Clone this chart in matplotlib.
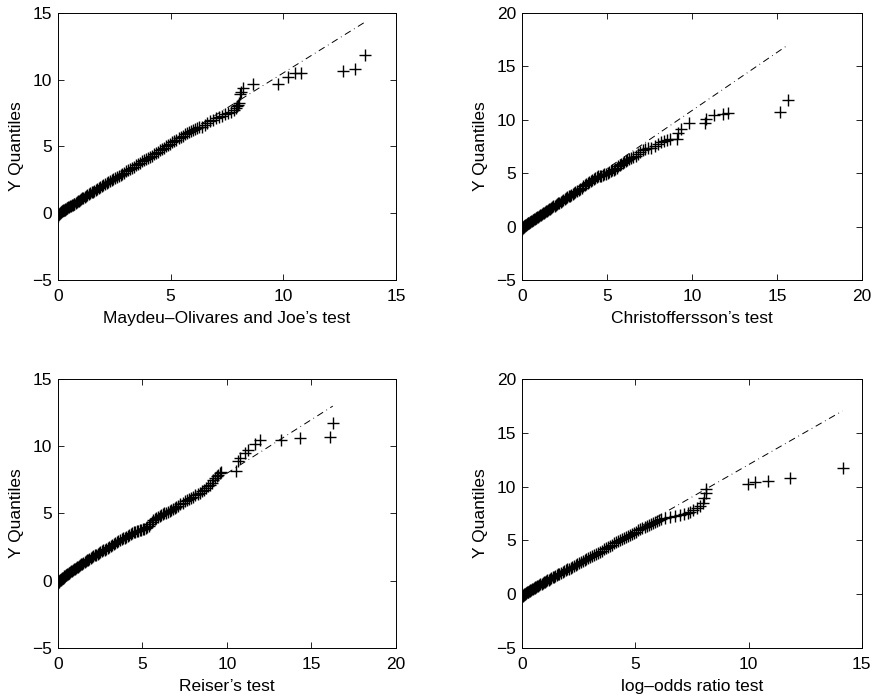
import matplotlib
matplotlib.use("Agg")
import matplotlib.pyplot as plt

plt.rcParams["font.family"] = ["Liberation Sans", "DejaVu Sans"]

# Maydeu-Olivares and Joe's test (sorted quantile pairs)
mo_x = [0.00, 0.02, 0.04, 0.06, 0.08, 0.10, 0.12, 0.14, 0.17, 0.20, 0.23, 0.26, 0.29, 0.32,
        0.35, 0.38, 0.41, 0.45, 0.49, 0.53, 0.57, 0.61, 0.65, 0.69, 0.73, 0.78, 0.83, 0.88,
        0.93, 0.98, 1.03, 1.08, 1.13, 1.19, 1.25, 1.31, 1.37, 1.43, 1.49, 1.55, 1.61, 1.67,
        1.74, 1.81, 1.88, 1.95, 2.02, 2.09, 2.16, 2.23, 2.30, 2.38, 2.46, 2.54, 2.62, 2.70,
        2.78, 2.86, 2.94, 3.02, 3.10, 3.19, 3.28, 3.37, 3.46, 3.55, 3.64, 3.73, 3.82, 3.91,
        4.00, 4.09, 4.18, 4.27, 4.36, 4.45, 4.54, 4.63, 4.72, 4.81, 4.90, 4.99, 5.08, 5.17,
        5.26, 5.35, 5.44, 5.53, 5.62, 5.71, 5.80, 5.89, 5.98, 6.07, 6.16, 6.28, 6.40, 6.52,
        6.63, 6.75, 6.88, 7.00, 7.13, 7.26, 7.40, 7.55, 7.70, 7.80, 7.88, 7.94, 8.00, 8.05,
        8.08, 8.13, 8.20, 8.66, 9.76, 10.20, 10.50, 10.80, 12.64, 13.20, 13.63]
mo_y = [-0.18, -0.12, -0.07, -0.03, 0.01, 0.04, 0.07, 0.10, 0.14, 0.17, 0.20, 0.24, 0.27, 0.30,
        0.33, 0.36, 0.39, 0.43, 0.47, 0.51, 0.55, 0.59, 0.63, 0.68, 0.72, 0.77, 0.82, 0.88,
        0.93, 0.99, 1.05, 1.10, 1.16, 1.22, 1.29, 1.35, 1.42, 1.48, 1.55, 1.61, 1.68, 1.74,
        1.81, 1.88, 1.95, 2.02, 2.09, 2.16, 2.23, 2.30, 2.37, 2.45, 2.53, 2.61, 2.70, 2.78,
        2.87, 2.95, 3.04, 3.12, 3.20, 3.29, 3.38, 3.48, 3.58, 3.68, 3.78, 3.88, 3.97, 4.06,
        4.14, 4.22, 4.31, 4.40, 4.50, 4.60, 4.70, 4.80, 4.90, 5.00, 5.10, 5.20, 5.30, 5.40,
        5.49, 5.59, 5.69, 5.79, 5.90, 6.00, 6.08, 6.16, 6.24, 6.32, 6.38, 6.42, 6.48, 6.60,
        6.72, 6.86, 6.98, 7.10, 7.22, 7.30, 7.40, 7.52, 7.60, 7.72, 7.85, 8.00, 8.12, 8.22,
        8.90, 9.08, 9.33, 9.63, 9.70, 10.20, 10.45, 10.50, 10.62, 10.77, 11.82]
mo_line_x = [0.0, 13.63]
mo_line_y = [0.0, 14.3]

# Christoffersson's test
ch_x = [0.00, 0.02, 0.04, 0.06, 0.08, 0.10, 0.12, 0.15, 0.18, 0.21, 0.24, 0.27, 0.30, 0.33,
        0.36, 0.40, 0.44, 0.48, 0.52, 0.56, 0.60, 0.64, 0.68, 0.73, 0.78, 0.83, 0.88, 0.93,
        0.98, 1.03, 1.08, 1.14, 1.20, 1.26, 1.32, 1.38, 1.44, 1.50, 1.56, 1.62, 1.69, 1.76,
        1.83, 1.90, 1.97, 2.04, 2.11, 2.18, 2.25, 2.33, 2.41, 2.49, 2.57, 2.65, 2.73, 2.81,
        2.89, 2.97, 3.05, 3.13, 3.22, 3.31, 3.40, 3.49, 3.58, 3.67, 3.76, 3.85, 3.94, 4.03,
        4.12, 4.21, 4.30, 4.39, 4.48, 4.57, 4.66, 4.75, 4.84, 4.93, 5.02, 5.11, 5.20, 5.29,
        5.38, 5.47, 5.56, 5.65, 5.74, 5.83, 5.92, 6.01, 6.10, 6.19, 6.28, 6.40, 6.53, 6.68,
        6.82, 6.96, 7.10, 7.25, 7.42, 7.60, 7.80, 8.00, 8.20, 8.35, 8.50, 8.70, 9.10, 9.20,
        9.35, 9.85, 10.76, 10.80, 11.30, 11.80, 12.10, 15.20, 15.67]
ch_y = [-0.20, -0.14, -0.09, -0.05, -0.01, 0.02, 0.05, 0.09, 0.13, 0.16, 0.19, 0.23, 0.26, 0.29,
        0.33, 0.37, 0.41, 0.45, 0.50, 0.54, 0.58, 0.62, 0.67, 0.72, 0.77, 0.83, 0.88, 0.93,
        0.99, 1.04, 1.10, 1.16, 1.22, 1.29, 1.35, 1.41, 1.48, 1.54, 1.60, 1.66, 1.73, 1.80,
        1.88, 1.95, 2.02, 2.09, 2.16, 2.24, 2.31, 2.39, 2.48, 2.56, 2.65, 2.73, 2.82, 2.90,
        2.99, 3.07, 3.16, 3.25, 3.35, 3.45, 3.55, 3.65, 3.75, 3.85, 3.95, 4.06, 4.16, 4.27,
        4.38, 4.49, 4.58, 4.64, 4.68, 4.72, 4.76, 4.81, 4.87, 4.94, 5.02, 5.10, 5.18, 5.25,
        5.33, 5.42, 5.52, 5.63, 5.74, 5.85, 5.95, 6.05, 6.14, 6.22, 6.30, 6.40, 6.52, 6.64,
        6.80, 7.00, 7.12, 7.22, 7.30, 7.38, 7.55, 7.72, 7.92, 8.02, 8.12, 8.18, 8.22, 8.72,
        9.10, 9.65, 9.70, 10.10, 10.45, 10.50, 10.60, 10.75, 11.80]
ch_line_x = [0.0, 15.67]
ch_line_y = [0.0, 17.0]

# Reiser's test
re_x = [0.00, 0.02, 0.04, 0.06, 0.08, 0.10, 0.12, 0.15, 0.18, 0.21, 0.24, 0.27, 0.30, 0.34,
        0.38, 0.42, 0.46, 0.50, 0.54, 0.58, 0.63, 0.68, 0.73, 0.78, 0.83, 0.88, 0.94, 1.00,
        1.06, 1.12, 1.18, 1.24, 1.30, 1.37, 1.44, 1.51, 1.58, 1.65, 1.72, 1.79, 1.86, 1.94,
        2.02, 2.10, 2.18, 2.26, 2.34, 2.42, 2.50, 2.59, 2.68, 2.77, 2.86, 2.95, 3.04, 3.13,
        3.22, 3.31, 3.40, 3.49, 3.58, 3.67, 3.76, 3.85, 3.94, 4.03, 4.12, 4.21, 4.30, 4.39,
        4.48, 4.57, 4.66, 4.75, 4.84, 4.93, 5.02, 5.11, 5.20, 5.29, 5.38, 5.47, 5.56, 5.65,
        5.74, 5.83, 5.92, 6.01, 6.10, 6.20, 6.30, 6.40, 6.50, 6.60, 6.70, 6.80, 6.90, 7.00,
        7.12, 7.25, 7.38, 7.50, 7.62, 7.75, 7.88, 8.00, 8.13, 8.26, 8.38, 8.50, 8.62, 8.74,
        8.86, 8.98, 9.10, 9.20, 9.30, 9.40, 9.48, 9.57, 9.67, 10.55, 10.65, 10.75, 11.05,
        11.24, 11.63, 11.93, 13.20, 14.30, 16.12, 16.26]
re_y = [-0.18, -0.13, -0.09, -0.05, -0.02, 0.01, 0.04, 0.08, 0.11, 0.14, 0.17, 0.20, 0.23, 0.27,
        0.31, 0.35, 0.39, 0.43, 0.47, 0.51, 0.55, 0.60, 0.64, 0.69, 0.74, 0.78, 0.84, 0.89,
        0.94, 1.00, 1.05, 1.10, 1.15, 1.21, 1.27, 1.33, 1.39, 1.45, 1.51, 1.57, 1.63, 1.69,
        1.76, 1.82, 1.88, 1.94, 2.00, 2.06, 2.12, 2.18, 2.25, 2.31, 2.37, 2.44, 2.50, 2.57,
        2.64, 2.71, 2.78, 2.86, 2.93, 3.00, 3.07, 3.14, 3.21, 3.28, 3.35, 3.42, 3.48, 3.54,
        3.59, 3.64, 3.68, 3.72, 3.75, 3.78, 3.81, 3.85, 3.90, 3.98, 4.10, 4.24, 4.38, 4.50,
        4.60, 4.68, 4.75, 4.82, 4.88, 4.94, 5.00, 5.06, 5.12, 5.19, 5.26, 5.33, 5.41, 5.49,
        5.58, 5.68, 5.80, 5.92, 6.00, 6.08, 6.16, 6.24, 6.34, 6.44, 6.55, 6.66, 6.78, 6.90,
        7.02, 7.15, 7.30, 7.46, 7.62, 7.76, 7.90, 8.05, 8.12, 8.15, 8.90, 9.14, 9.50,
        9.76, 10.14, 10.50, 10.50, 10.63, 10.71, 11.76]
re_line_x = [0.0, 16.26]
re_line_y = [0.0, 13.0]

# log-odds ratio test
lo_x = [0.00, 0.02, 0.04, 0.06, 0.08, 0.10, 0.12, 0.14, 0.17, 0.20, 0.23, 0.26, 0.29, 0.32,
        0.35, 0.38, 0.42, 0.46, 0.50, 0.54, 0.58, 0.62, 0.66, 0.70, 0.75, 0.80, 0.85, 0.90,
        0.95, 1.00, 1.05, 1.10, 1.16, 1.22, 1.28, 1.34, 1.40, 1.46, 1.52, 1.58, 1.64, 1.71,
        1.78, 1.85, 1.92, 1.99, 2.06, 2.13, 2.20, 2.27, 2.35, 2.43, 2.51, 2.59, 2.67, 2.75,
        2.83, 2.91, 2.99, 3.07, 3.15, 3.24, 3.33, 3.42, 3.51, 3.60, 3.69, 3.78, 3.87, 3.96,
        4.05, 4.14, 4.23, 4.32, 4.41, 4.50, 4.59, 4.68, 4.77, 4.86, 4.95, 5.04, 5.13, 5.22,
        5.31, 5.40, 5.49, 5.58, 5.67, 5.76, 5.85, 5.94, 6.03, 6.15, 6.32, 6.52, 6.75, 6.97,
        7.15, 7.30, 7.40, 7.55, 7.70, 7.85, 8.00, 8.05, 8.10, 8.12, 9.99, 10.28, 10.87,
        11.83, 14.15]
lo_y = [-0.22, -0.16, -0.11, -0.07, -0.03, 0.01, 0.04, 0.07, 0.11, 0.15, 0.19, 0.23, 0.27, 0.31,
        0.34, 0.38, 0.43, 0.48, 0.53, 0.58, 0.63, 0.68, 0.73, 0.78, 0.84, 0.90, 0.96, 1.02,
        1.08, 1.14, 1.20, 1.26, 1.33, 1.40, 1.47, 1.54, 1.61, 1.68, 1.75, 1.82, 1.89, 1.97,
        2.05, 2.13, 2.21, 2.29, 2.37, 2.45, 2.53, 2.61, 2.70, 2.79, 2.88, 2.98, 3.07, 3.16,
        3.25, 3.35, 3.44, 3.54, 3.63, 3.74, 3.84, 3.95, 4.05, 4.16, 4.27, 4.38, 4.49, 4.60,
        4.71, 4.81, 4.90, 4.99, 5.08, 5.18, 5.28, 5.38, 5.49, 5.60, 5.71, 5.82, 5.93, 6.03,
        6.13, 6.23, 6.33, 6.43, 6.53, 6.63, 6.72, 6.80, 6.88, 7.00, 7.10, 7.20, 7.28, 7.36,
        7.42, 7.52, 7.65, 7.86, 8.02, 8.18, 8.50, 8.95, 9.40, 9.75, 10.22, 10.44, 10.53,
        10.78, 11.78]
lo_line_x = [0.0, 14.15]
lo_line_y = [0.0, 17.05]

panels = [
    (mo_x, mo_y, mo_line_x, mo_line_y, "Maydeu\u2013Olivares and Joe\u2019s test", (0, 15), (-5, 15)),
    (ch_x, ch_y, ch_line_x, ch_line_y, "Christoffersson\u2019s test", (0, 20), (-5, 20)),
    (re_x, re_y, re_line_x, re_line_y, "Reiser\u2019s test", (0, 20), (-5, 15)),
    (lo_x, lo_y, lo_line_x, lo_line_y, "log\u2013odds ratio test", (0, 15), (-5, 20)),
]

# axes boxes in figure fractions (left, bottom, width, height)
boxes = [
    (0.0661, 0.600, 0.3854, 0.3819),
    (0.5956, 0.600, 0.3870, 0.3819),
    (0.0661, 0.0747, 0.3854, 0.3835),
    (0.5956, 0.0747, 0.3870, 0.3835),
]

fig = plt.figure(figsize=(8.77, 7.0), dpi=100)
for (x, y, lx, ly, label, xl, yl), box in zip(panels, boxes):
    ax = fig.add_axes(box)
    ax.plot(lx, ly, color="black", lw=0.7, linestyle=(0, (7, 4, 0.8, 4)))
    ax.plot(x, y, linestyle="none", marker="+", color="black", markersize=8, mew=1.0)
    ax.set_xlim(xl)
    ax.set_ylim(yl)
    ax.set_xticks(range(xl[0], xl[1] + 1, 5))
    ax.set_yticks(range(yl[0], yl[1] + 1, 5))
    ax.tick_params(direction="in", top=True, right=True, length=4, width=0.6,
                   labelsize=12.5)
    ax.tick_params(axis="x", pad=6.5)
    ax.tick_params(axis="y", pad=4.5)
    for s in ax.spines.values():
        s.set_linewidth(0.7)
    ax.set_xlabel(label, fontsize=12.5, labelpad=5)
    ax.set_ylabel("Y Quantiles", fontsize=12.5, labelpad=6)

fig.savefig("out.png", dpi=100)
